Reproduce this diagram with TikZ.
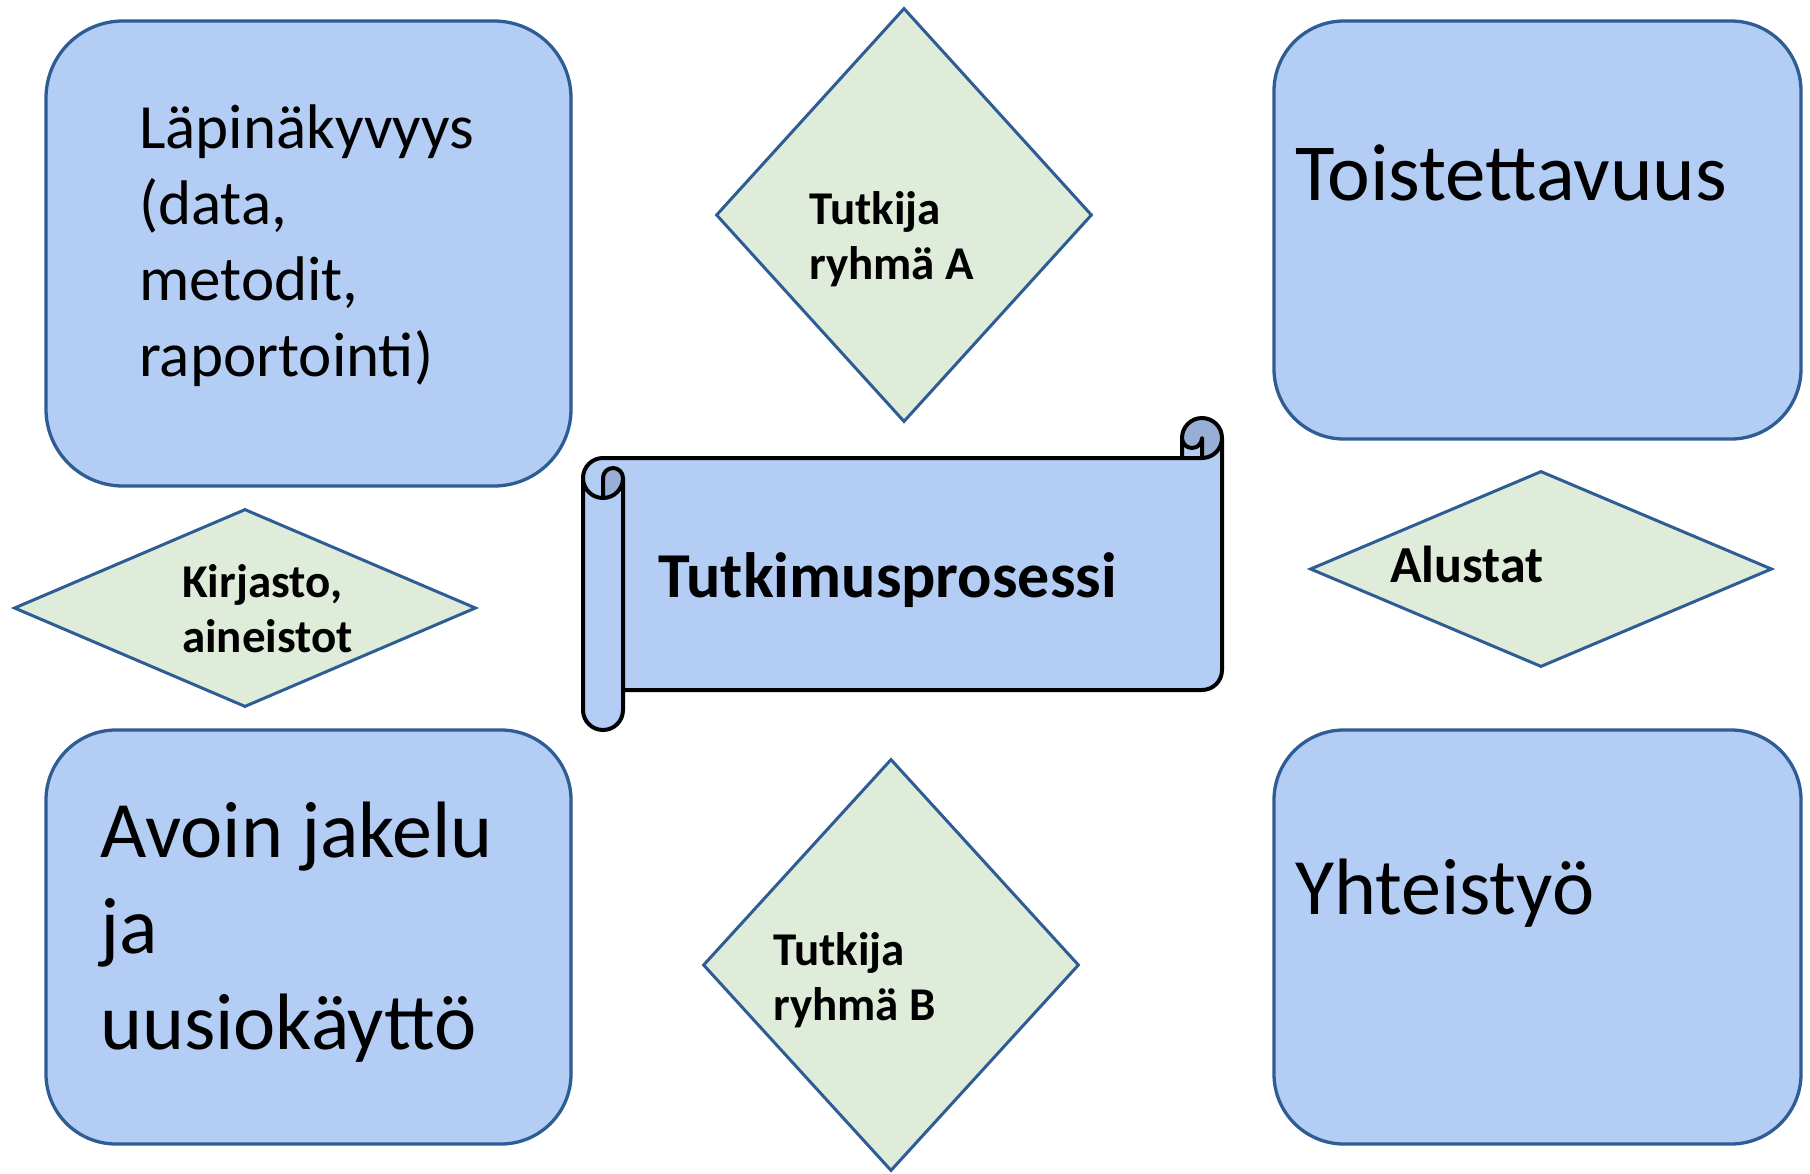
\documentclass[tikz,border=0pt]{standalone}
\usepackage{fontspec}
\setmainfont{Carlito}
\usetikzlibrary{shapes.geometric}

\definecolor{boxfill}{RGB}{179,205,245}
\definecolor{boxline}{RGB}{45,93,148}
\definecolor{gemfill}{RGB}{224,236,218}
\definecolor{rollshade}{RGB}{152,174,212}

\begin{document}
\begin{tikzpicture}[x=1pt,y=-1pt,
  topic/.style={draw=boxline, line width=3.3pt, fill=boxfill, rounded corners=#1, inner sep=0pt},
  gem/.style={diamond, draw=boxline, line width=3pt, fill=gemfill, inner sep=0pt},
  scrollline/.style={draw=black, line width=4pt, line join=round},
  % multi-line nodes: the base anchor sits on the last line
  bigtext/.style={anchor=base west, inner sep=0pt, align=left, font=\fontsize{80}{96}\selectfont},
  midtext/.style={anchor=base west, inner sep=0pt, align=left, font=\fontsize{63}{76}\selectfont},
  gemtext/.style={anchor=base west, inner sep=0pt, align=left, font=\bfseries\fontsize{47}{55}\selectfont}
]
\useasboundingbox (0,0) rectangle (1810,1173);

% four theme boxes
\node[topic=77pt, minimum width=525pt, minimum height=465pt] (lap) at (308.5,253.5) {};
\node[topic=70pt, minimum width=527pt, minimum height=418pt] (toi) at (1537.5,230) {};
\node[topic=70pt, minimum width=525pt, minimum height=414pt] (avo) at (308.5,937) {};
\node[topic=70pt, minimum width=527pt, minimum height=414pt] (yht) at (1537.5,937) {};

% diamonds
\node[gem, minimum width=376pt, minimum height=414pt] (ryA) at (904,215) {};
\node[gem, minimum width=376pt, minimum height=412pt] (ryB) at (891,965) {};
\node[gem, minimum width=462pt, minimum height=198pt] (kir) at (245,608) {};
\node[gem, minimum width=462pt, minimum height=196pt] (alu) at (1541,569) {};

% scroll: light body
\fill[boxfill] (1222,438) arc[start angle=0,delta angle=90,radius=20] -- (1202,438)
  arc[start angle=0,delta angle=180,radius=10] -- (1182,458) -- (603,458)
  arc[start angle=270,delta angle=-90,radius=20] -- (583,710)
  arc[start angle=180,delta angle=-180,radius=20] -- (623,690) -- (1202,690)
  arc[start angle=90,delta angle=-90,radius=20] -- cycle;
% scroll: shaded curls
\fill[rollshade] (603,498) arc[start angle=90,delta angle=-90,radius=20]
  arc[start angle=0,delta angle=-180,radius=10] -- cycle;
\fill[rollshade] (1202,458) arc[start angle=90,delta angle=-270,radius=20]
  arc[start angle=180,delta angle=-180,radius=10] -- cycle;
% scroll: outline
\draw[scrollline] (583,478) arc[start angle=180,delta angle=90,radius=20] -- (1182,458) -- (1182,438)
  arc[start angle=180,delta angle=180,radius=20] -- (1222,670)
  arc[start angle=0,delta angle=90,radius=20] -- (623,690) -- (623,710)
  arc[start angle=0,delta angle=180,radius=20] -- cycle
  (1182,458) -- (1202,458) arc[start angle=90,delta angle=-90,radius=20]
  (1202,458) -- (1202,438) arc[start angle=0,delta angle=180,radius=10]
  (603,498) -- (603,478) arc[start angle=180,delta angle=180,radius=10]
  arc[start angle=0,delta angle=180,radius=20]
  (623,478) -- (623,690);

% texts
\node[midtext] (tlap) at (139,376) {Läpinäkyvyys\\(data,\\metodit,\\raportointi)};
\node[bigtext, font=\fontsize{81}{96}\selectfont] (ttoi) at (1295,200) {Toistettavuus};
\node[bigtext] (tavo) at (100,1049) {Avoin jakelu\\ja\\uusiokäyttö};
\node[bigtext] (tyht) at (1295,914) {Yhteistyö};
\node[gemtext] (tryA) at (809,279) {Tutkija\\ryhmä A};
\node[gemtext] (tryB) at (773,1020) {Tutkija\\ryhmä B};
\node[gemtext] (tkir) at (182,652) {Kirjasto,\\aineistot};
\node[gemtext, font=\bfseries\fontsize{52}{60}\selectfont] (talu) at (1390,582) {Alustat};
\node[anchor=base west, inner sep=0pt, font=\bfseries\fontsize{64}{77}\selectfont] (tpro) at (658,597) {Tutkimusprosessi};
\end{tikzpicture}
\end{document}
